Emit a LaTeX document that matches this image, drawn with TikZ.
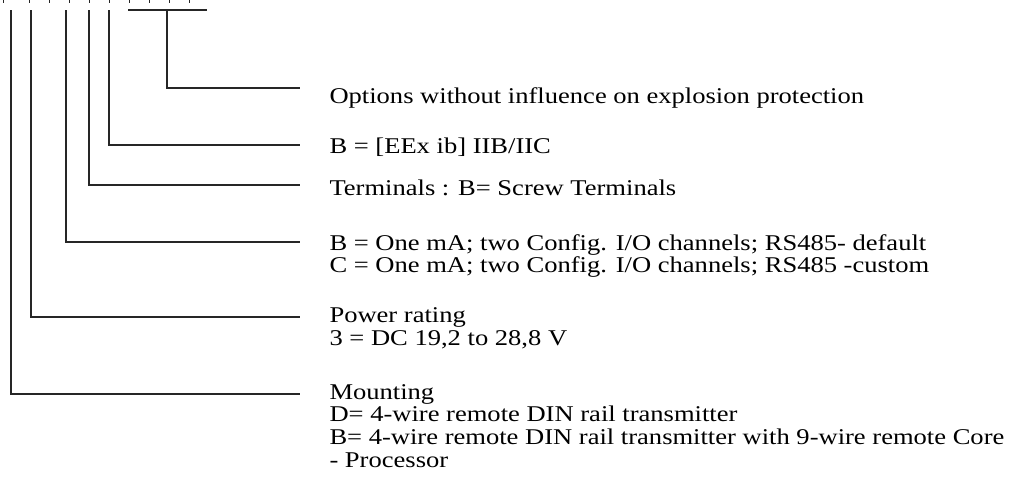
\documentclass[tikz,border=0pt]{standalone}
\usepackage{fontspec}
\setmainfont{Liberation Serif}[FakeStretch=1.18]
\usetikzlibrary{calc}

\tikzset{
    lead/.style={line width=0.6pt, black!85},
    txt/.style={anchor=base west, inner sep=0pt, font=\fontsize{9}{9}\selectfont},
}

\begin{document}
\begin{tikzpicture}[x=0.4pt,y=-0.4pt]
        \useasboundingbox (0,0) rectangle (1009,495);

        % Reste der Code-Zeichen oben
        \foreach \x in {3,29,49,69,89,109,129,149,169,189}{
            \draw[lead, line width=0.4pt] (\x,0) -- (\x,2.5);
        }

        % Anfangspunkte
        \coordinate (a) at (11,10);
        \coordinate (b) at (31,10);
        \coordinate (c) at (66,10);
        \coordinate (d) at (89,10);
        \coordinate (e) at (109,10);
        \coordinate (fl) at (128,10);
        \coordinate (fr) at (207,10);
        \coordinate (f) at (167,10);

        % Enden der Linien
        \coordinate (ea) at (300,394);
        \coordinate (eb) at (300,317);
        \coordinate (ec) at (300,242);
        \coordinate (ed) at (300,185);
        \coordinate (ee) at (300,145);
        \coordinate (ef) at (300,88);

        % Texte
        \node[txt] (opt) at (329,103) {Options without influence on explosion protection};
        \node[txt] (exprot) at (329,153) {B = [EEx ib] IIB/IIC};
        \node[txt] (term) at (329,195) {Terminals : B= Screw Terminals};
        \node[txt] (ioB) at (329,250) {B = One mA; two Config. I/O channels; RS485- default};
        \node[txt] (ioC) at (329,272) {C = One mA; two Config. I/O channels; RS485 -custom};
        \node[txt] (power) at (329,322) {Power rating};
        \node[txt] (powerv) at (329,345) {3 = DC 19,2 to 28,8 V};
        \node[txt] (mount) at (329,399) {Mounting};
        \node[txt] (mountD) at (329,421.5) {D= 4-wire remote DIN rail transmitter};
        \node[txt] (mountB) at (329,444) {B= 4-wire remote DIN rail transmitter with 9-wire remote Core};
        \node[txt] (mountP) at (329,467) {- Processor};

        % Linien
        \draw[lead] (fl)--(fr);
        \draw[lead] (f) |- (ef);
        \draw[lead] (e) |- (ee);
        \draw[lead] (d) |- (ed);
        \draw[lead] (c) |- (ec);
        \draw[lead] (b) |- (eb);
        \draw[lead] (a) |- (ea);
    \end{tikzpicture}
\end{document}
